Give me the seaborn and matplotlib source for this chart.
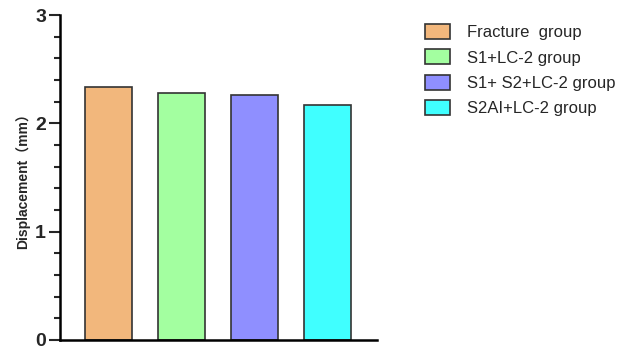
import matplotlib
matplotlib.use("Agg")
import matplotlib.pyplot as plt
import seaborn as sns
import pandas as pd
from matplotlib.ticker import MultipleLocator

groups = ["Fracture  group", "S1+LC-2 group", "S1+ S2+LC-2 group", "S2AI+LC-2 group"]
displacement = [2.34, 2.28, 2.26, 2.17]
colors = ["#F2B77C", "#A3FFA0", "#8F8FFF", "#40FFFF"]
y_ticks = [0, 1, 2, 3]

sns.set_theme(style="ticks")
plt.rcParams["font.family"] = ["Liberation Sans", "Noto Sans CJK SC", "DejaVu Sans"]

df = pd.DataFrame({"group": groups, "displacement": displacement})

fig = plt.figure(figsize=(6.21, 3.54), dpi=100)
ax = fig.add_axes([60 / 621, 14 / 354, 317 / 621, 325 / 354])

sns.barplot(data=df, x="group", y="displacement", hue="group",
            palette=colors, saturation=1, width=0.64, edgecolor="#333333",
            linewidth=1.2, dodge=False, legend=False, ax=ax)

ax.set_xlim(-0.66, 3.68)
ax.set_ylim(0, 3)
ax.set_yticks(y_ticks)
ax.set_yticklabels([str(t) for t in y_ticks], fontsize=14, fontweight="bold")
ax.yaxis.set_minor_locator(MultipleLocator(0.2))
ax.tick_params(axis="y", which="major", direction="out", length=8, width=1.5, pad=2)
ax.tick_params(axis="y", which="minor", direction="out", length=4.5, width=1.5)
ax.tick_params(axis="x", which="major", direction="in", length=3, width=1.2)
ax.set_xticklabels([])
ax.set_xlabel("")
ax.set_ylabel("Displacement（mm）", fontsize=10, fontweight="bold", labelpad=4)

for side in ("top", "right"):
    ax.spines[side].set_visible(False)
for side in ("left", "bottom"):
    ax.spines[side].set_linewidth(1.8)
    ax.spines[side].set_color("black")

handles = [plt.Rectangle((0, 0), 1, 1, facecolor=c, edgecolor="#333333", linewidth=1.2)
           for c in colors]
fig.legend(handles, groups, loc="upper left", bbox_to_anchor=(410 / 621, 1 - 9 / 354),
           frameon=False, fontsize=12, handlelength=1.5, handleheight=1.0,
           labelspacing=0.55, handletextpad=1.0)

fig.savefig("out.png", dpi=100)
